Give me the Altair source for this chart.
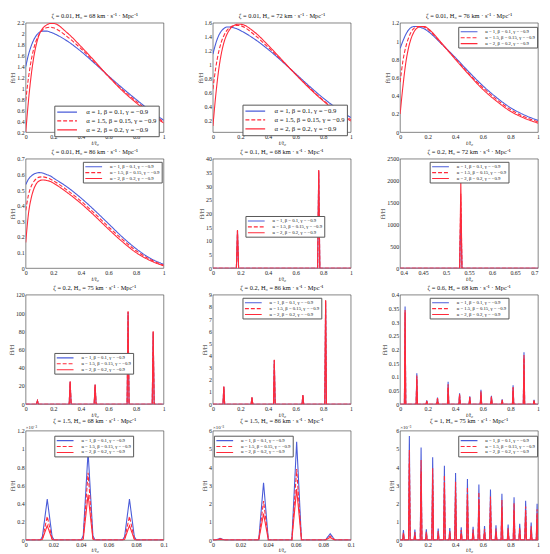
import altair as alt
import pandas as pd

SERIF = "Liberation Serif"
LABELS = ["α = 1, β = 0.1, γ = −0.9", "α = 1.5, β = 0.15, γ = −0.9", "α = 2, β = 0.2, γ = −0.9"]
COLORS = ["#4a5cd9", "#ff2a3a", "#ff2a3a"]
DASHES = [[1, 0], [4, 2], [1, 0]]

# ---------- smooth panels (row 1 and first of row 2) ----------
X_SMOOTH = [0, 0.02, 0.04, 0.06, 0.08, 0.1, 0.12, 0.15, 0.18, 0.2, 0.3, 0.4, 0.5, 0.6, 0.7, 0.8, 0.9, 1.0]

P1_BLUE = [1.40, 1.62, 1.78, 1.90, 1.98, 2.03, 2.05, 2.05, 2.03, 2.01, 1.87, 1.68, 1.46, 1.23, 1.01, 0.80, 0.60, 0.42]
P1_DASH = [0.78, 1.20, 1.52, 1.75, 1.90, 2.00, 2.07, 2.11, 2.12, 2.11, 1.95, 1.73, 1.48, 1.22, 0.98, 0.77, 0.57, 0.39]
P1_SOLID = [0.20, 0.78, 1.25, 1.60, 1.84, 2.00, 2.09, 2.16, 2.19, 2.19, 2.02, 1.77, 1.50, 1.22, 0.96, 0.74, 0.54, 0.37]

P2_BLUE = [1.15, 1.30, 1.41, 1.48, 1.52, 1.54, 1.54, 1.53, 1.51, 1.49, 1.37, 1.22, 1.05, 0.87, 0.69, 0.52, 0.37, 0.24]
P2_DASH = [0.65, 0.95, 1.17, 1.32, 1.42, 1.49, 1.53, 1.56, 1.565, 1.56, 1.43, 1.25, 1.06, 0.86, 0.67, 0.49, 0.34, 0.21]
P2_SOLID = [0.12, 0.55, 0.90, 1.15, 1.32, 1.43, 1.50, 1.56, 1.58, 1.58, 1.47, 1.28, 1.07, 0.86, 0.66, 0.48, 0.32, 0.19]

P3_BLUE = [0.92, 1.00, 1.07, 1.12, 1.15, 1.16, 1.16, 1.15, 1.13, 1.11, 0.97, 0.82, 0.66, 0.51, 0.38, 0.27, 0.19, 0.13]
P3_DASH = [0.55, 0.78, 0.93, 1.03, 1.10, 1.14, 1.16, 1.16, 1.15, 1.13, 0.97, 0.81, 0.64, 0.49, 0.36, 0.25, 0.17, 0.115]
P3_SOLID = [0.20, 0.50, 0.75, 0.92, 1.03, 1.10, 1.14, 1.16, 1.16, 1.14, 0.98, 0.80, 0.63, 0.47, 0.34, 0.23, 0.155, 0.10]

P4_BLUE = [0.535, 0.57, 0.59, 0.603, 0.61, 0.612, 0.61, 0.60, 0.59, 0.578, 0.52, 0.45, 0.37, 0.285, 0.20, 0.125, 0.065, 0.025]
P4_DASH = [0.37, 0.47, 0.525, 0.557, 0.575, 0.583, 0.585, 0.58, 0.57, 0.56, 0.50, 0.43, 0.35, 0.265, 0.185, 0.112, 0.057, 0.02]
P4_SOLID = [0.165, 0.35, 0.45, 0.51, 0.545, 0.56, 0.565, 0.562, 0.555, 0.545, 0.485, 0.415, 0.335, 0.25, 0.17, 0.10, 0.05, 0.015]

# ---------- spike panels ----------
P5_C = [0.178, 0.767]
P5_BLUE = [13.6, 35.5]
P5_DASH = [13.8, 35.7]
P5_SOLID = [14.0, 35.9]

P6_C = [0.532]
P6_BLUE = [1250]
P6_DASH = [1700]
P6_SOLID = [1990]

P7_C = [0.085, 0.322, 0.503, 0.742, 0.924]
P7_BLUE = [3.7, 24.6, 21.2, 101.0, 79.0]
P7_DASH = [3.75, 24.8, 21.4, 101.5, 79.5]
P7_SOLID = [3.8, 25.0, 21.5, 102.0, 80.0]

P8_C = [0.079, 0.283, 0.445, 0.652, 0.817]
P8_BLUE = [1.43, 0.54, 3.62, 0.74, 8.50]
P8_DASH = [1.44, 0.55, 3.64, 0.75, 8.53]
P8_SOLID = [1.45, 0.56, 3.65, 0.76, 8.55]

P9_C = [0.036, 0.121, 0.193, 0.271, 0.348, 0.431, 0.505, 0.586, 0.662, 0.740, 0.819, 0.898, 0.971]
P9_BLUE = [0.357, 0.113, 0.014, 0.024, 0.082, 0.040, 0.029, 0.053, 0.031, 0.018, 0.069, 0.190, 0.016]
P9_DASH = [0.345, 0.105, 0.0125, 0.022, 0.073, 0.036, 0.026, 0.047, 0.028, 0.016, 0.063, 0.180, 0.0145]
P9_SOLID = [0.335, 0.098, 0.011, 0.020, 0.065, 0.033, 0.024, 0.042, 0.026, 0.014, 0.058, 0.172, 0.013]

P10_C = [0.0156, 0.0452, 0.0752]
P10_BLUE = [0.45, 0.97, 0.45]
P10_DASH = [0.26, 0.74, 0.26]
P10_SOLID = [0.16, 0.50, 0.16]
P10_FOOT_BLUE = [0.04, 0.05, 0.04]
P10_FOOT_DASH = [0.015, 0.02, 0.015]
P10_FOOT_SOLID = [0.01, 0.01, 0.01]

P11_C = [0.0052, 0.0367, 0.0607, 0.085]
P11_BLUE = [0.10, 3.15, 5.40, 0.35]
P11_DASH = [0.07, 2.15, 3.90, 0.23]
P11_SOLID = [0.05, 1.45, 2.80, 0.15]

P12_C = [0.024, 0.067, 0.107, 0.152, 0.190, 0.236, 0.276, 0.321, 0.360, 0.402, 0.443, 0.488,
         0.529, 0.571, 0.612, 0.655, 0.695, 0.738, 0.783, 0.826, 0.867, 0.910, 0.950, 0.993]
P12_BLUE = [0.55, 5.72, 0.58, 5.08, 0.60, 4.55, 0.64, 4.08, 0.67, 3.68, 0.70, 3.35,
            0.74, 3.05, 0.78, 2.78, 0.82, 2.55, 0.86, 2.35, 0.90, 2.16, 0.97, 1.99]
P12_DASH = [0.42, 4.95, 0.45, 4.40, 0.47, 3.95, 0.50, 3.55, 0.52, 3.20, 0.55, 2.90,
            0.58, 2.63, 0.61, 2.40, 0.64, 2.20, 0.67, 2.02, 0.71, 1.85, 0.76, 1.70]
P12_SOLID = [0.30, 4.25, 0.32, 3.75, 0.34, 3.30, 0.36, 2.96, 0.38, 2.64, 0.40, 2.40,
             0.42, 2.16, 0.44, 1.96, 0.46, 1.80, 0.49, 1.64, 0.52, 1.50, 0.55, 1.36]


def spikes(xmin, xmax, centers, heights, hw, foot=None, fw=None):
    xs, ys = [xmin], [0.0]
    for k, (c, h) in enumerate(zip(centers, heights)):
        if foot is not None:
            xs += [c - fw, c - hw, c, c + hw, c + fw]
            ys += [0.0, foot[k], h, foot[k], 0.0]
        else:
            xs += [c - hw, c, c + hw]
            ys += [0.0, h, 0.0]
    xs.append(xmax)
    ys.append(0.0)
    return xs, ys


def frame(series):
    rows = []
    for i, (xs, ys) in enumerate(series):
        for j, (a, b) in enumerate(zip(xs, ys)):
            rows.append({"x": a, "y": b, "s": LABELS[i], "o": j})
    return pd.DataFrame(rows)


def ticks(a, b, step):
    n = int(round((b - a) / step))
    return [round(a + k * step, 6) for k in range(n + 1)]


def title(z, h):
    return f"ζ = {z}, H₀ = {h} km · s⁻¹ · Mpc⁻¹"


panels = []
for (z, h, b, d, s, ydom, ystep, lpos, big) in [
    ("0.01", 68, P1_BLUE, P1_DASH, P1_SOLID, (0.2, 2.2), 0.2, (29, 84), True),
    ("0.01", 72, P2_BLUE, P2_DASH, P2_SOLID, (0.03, 1.6), 0.2, (30, 83), True),
    ("0.01", 76, P3_BLUE, P3_DASH, P3_SOLID, (0, 1.2), 0.2, (59, 4), False),
    ("0.01", 86, P4_BLUE, P4_DASH, P4_SOLID, (0, 0.7), 0.1, (58, 3), False),
]:
    df = frame([(X_SMOOTH, b), (X_SMOOTH, d), (X_SMOOTH, s)])
    yt = ticks(0.2 if ydom[0] > 0 else 0, ydom[1], ystep)
    panels.append(dict(df=df, title=title(z, h), xdom=(0, 1), xt=ticks(0, 1, 0.2),
                       ydom=ydom, yt=yt, lpos=lpos, big=big, exp=False, interp="monotone"))

spike_specs = [
    ("0.1", 68, P5_C, P5_BLUE, P5_DASH, P5_SOLID, (0, 1), 0.2, (0, 40), 5, 0.008, (33, 58), None),
    ("0.2", 72, P6_C, P6_BLUE, P6_DASH, P6_SOLID, (0.4, 0.7), 0.05, (0, 2500), 500, 0.0025, (30, 3), None),
    ("0.2", 75, P7_C, P7_BLUE, P7_DASH, P7_SOLID, (0, 1), 0.2, (0, 120), 20, 0.007, (29, 59), None),
    ("0.2", 86, P8_C, P8_BLUE, P8_DASH, P8_SOLID, (0, 1), 0.2, (0, 9), 1, 0.006, (30, 3), None),
    ("0.6", 68, P9_C, P9_BLUE, P9_DASH, P9_SOLID, (0, 1), 0.2, (0, 0.4), 0.05, 0.005, (30, 3), None),
    ("1.5", 68, P10_C, P10_BLUE, P10_DASH, P10_SOLID, (0, 0.1), 0.02, (0, 1.2), 0.2, 0.0035, (29, 5),
     (P10_FOOT_BLUE, P10_FOOT_DASH, P10_FOOT_SOLID)),
    ("1.5", 86, P11_C, P11_BLUE, P11_DASH, P11_SOLID, (0, 0.1), 0.02, (0, 6), 1, 0.0035, (1, 5), None),
    ("1", 75, P12_C, P12_BLUE, P12_DASH, P12_SOLID, (0, 1), 0.2, (0, 6), 1, 0.006, (59, 5), None),
]
for (z, h, c, b, d, s, xdom, xstep, ydom, ystep, hw, lpos, feet) in spike_specs:
    ser = []
    for k, hs in enumerate([b, d, s]):
        if feet is None:
            ser.append(spikes(xdom[0], xdom[1], c, hs, hw))
        else:
            ser.append(spikes(xdom[0], xdom[1], c, hs, hw, feet[k], 0.005))
    df = frame(ser)
    panels.append(dict(df=df, title=title(z, h), xdom=xdom, xt=ticks(xdom[0], xdom[1], xstep),
                       ydom=ydom, yt=ticks(ydom[0], ydom[1], ystep), lpos=lpos, big=False,
                       exp=z in ("1.5", "1"), interp="linear"))

W, H = 140, 111
LABEL_EXPR = "format(datum.value, '~g')"
charts = []
for p in panels:
    if p["big"]:
        lg = alt.Legend(title=None, orient="none", legendX=p["lpos"][0], legendY=p["lpos"][1],
                        labelFont=SERIF, labelFontSize=6.8, symbolType="M-2.86,0H2.86", symbolSize=49,
                        symbolStrokeWidth=1.2, symbolOffset=6.5, labelOffset=15, padding=2, rowPadding=0,
                        strokeColor="#555", fillColor="white", labelColor="#111", labelLimit=0,
                        symbolFillColor="transparent")
    else:
        lg = alt.Legend(title=None, orient="none", legendX=p["lpos"][0], legendY=p["lpos"][1],
                        labelFont=SERIF, labelFontSize=4.8, symbolType="M-3.4,0H3.4", symbolSize=25,
                        symbolStrokeWidth=1.1, symbolOffset=6, labelOffset=13, padding=1.5, rowPadding=0,
                        strokeColor="#555", fillColor="white", labelColor="#111", labelLimit=0,
                        symbolFillColor="transparent")
    flush_x = p["xdom"][0] != 0
    line = alt.Chart(p["df"]).mark_line(clip=True, strokeWidth=1.1, interpolate=p["interp"]).encode(
        x=alt.X("x:Q", scale=alt.Scale(domain=list(p["xdom"]), nice=False, zero=False),
                axis=alt.Axis(values=p["xt"], labelExpr=LABEL_EXPR, title="t/t₀",
                              labelPadding=1, titlePadding=0, labelFlush=flush_x)),
        y=alt.Y("y:Q", scale=alt.Scale(domain=list(p["ydom"]), nice=False, zero=False),
                axis=alt.Axis(values=p["yt"], labelExpr=LABEL_EXPR, title="Ḣ/H")),
        color=alt.Color("s:N", scale=alt.Scale(domain=LABELS, range=COLORS), legend=lg),
        strokeDash=alt.StrokeDash("s:N", scale=alt.Scale(domain=LABELS, range=DASHES), legend=lg),
        order="o:Q",
    )
    ch = line
    if p["exp"]:
        txt = alt.Chart(pd.DataFrame({"t": ["×10⁻³"]})).mark_text(
            align="left", baseline="bottom", font=SERIF, fontSize=5, color="#222"
        ).encode(x=alt.value(0), y=alt.value(-1), text="t:N")
        ch = alt.layer(line, txt)
    charts.append(ch.properties(width=W, height=H, title=p["title"]))

chart = alt.concat(*charts, columns=3, spacing={"row": 27, "column": 50}, bounds="flush").resolve_scale(
    color="independent", strokeDash="independent"
).resolve_legend(color="independent", strokeDash="independent").properties(
    padding={"left": 0, "top": 0, "right": 2, "bottom": 0}
).configure_axis(
    labelFont=SERIF, labelFontSize=6, ticks=False, domain=False, grid=False, labelPadding=1.5,
    titleFont=SERIF, titleFontSize=6.3, titlePadding=1, titleFontWeight="normal",
    labelColor="#222", titleColor="#222", labelFlush=False, labelOverlap=False
).configure_axisX(titleFontStyle="italic").configure_title(
    font=SERIF, fontSize=6.5, fontWeight="normal", offset=0.5, anchor="middle", color="#111"
).configure_view(stroke="#333", strokeWidth=0.6)

chart.save("out.html", embed_options={"renderer": "svg", "actions": False})
